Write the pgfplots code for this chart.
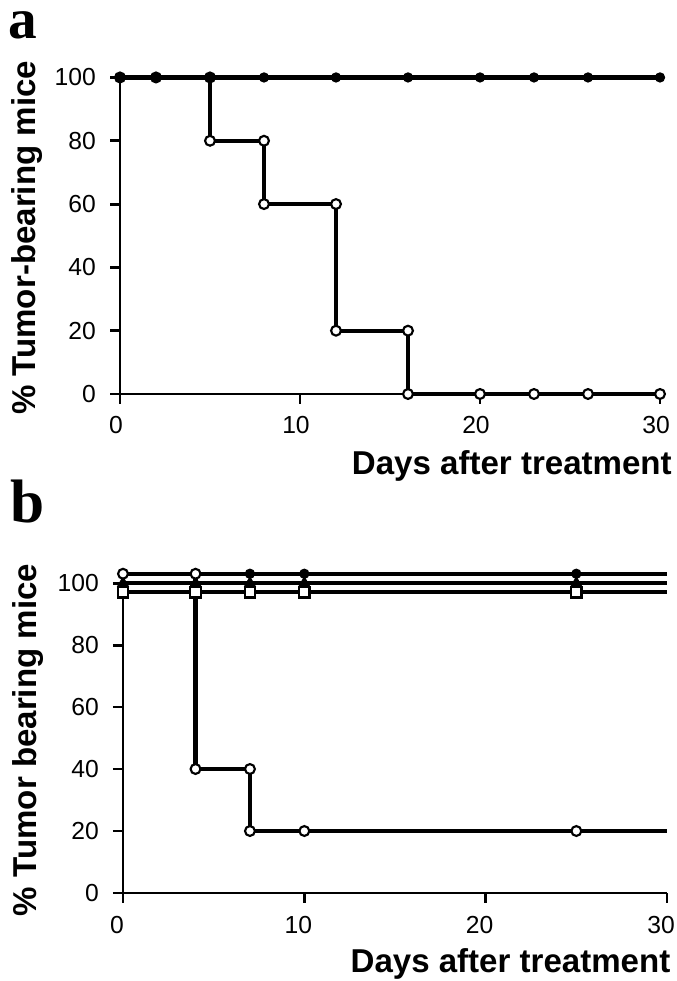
\documentclass[border=0pt]{standalone}
\usepackage{fontspec}
\setmainfont{Liberation Sans}
\newfontfamily\panelfont{Liberation Serif}
\usepackage{pgfplots}
\pgfplotsset{compat=1.18}
\pgfplotsset{
  panel/.style={
    scale only axis,
    axis lines=left,
    axis line style={-, line width=2.2bp, black},
    tick align=outside,
    major tick length=7.5bp,
    tick style={line width=2.2bp, black},
    xmin=0, xmax=30, ymin=0,
    xtick={0,10,20,30}, ytick={0,20,40,60,80,100},
    /pgf/number format/assume math mode=true,
    ticklabel style={font=\fontsize{18.5bp}{22bp}\selectfont, inner sep=0pt},
    yticklabel style={xshift=-10.5bp},
    clip=false,
  },
  ser/.style={black, line width=3.2bp, line join=miter},
  opencirc/.style={mark=*, mark size=3.7bp, mark options={solid, fill=white, draw=black, line width=1.6bp}},
  fillcirc/.style={mark=*, mark size=3.4bp, mark options={solid, fill=black, draw=black, line width=0.9bp}},
  opensq/.style={mark=square*, mark size=3.9bp, mark options={solid, fill=white, draw=black, line width=1.6bp}},
  filltri/.style={mark=triangle*, mark size=4.5bp, mark options={solid, fill=black, draw=black, line width=0.8bp}},
}
\begin{document}
\begin{tikzpicture}
\useasboundingbox (0,0) rectangle (507.75bp,735.75bp);
% ---------------- panel a ----------------
\begin{axis}[panel, at={(90bp,440.25bp)}, anchor=south west,
  width=405bp, height=237.4bp, ymax=100, axis on top,
  xticklabel style={yshift=-9bp, xshift=-3bp}]
\addplot[ser, opencirc] coordinates {
 (0,100) (2,100) (5,100) (5,80) (8,80) (8,60) (12,60) (12,20) (16,20) (16,0) (20,0) (23,0) (26,0) (30,0)};
\addplot[ser, fillcirc] coordinates {
 (0,100) (2,100) (5,100) (8,100) (12,100) (16,100) (20,100) (23,100) (26,100) (30,100)};
\end{axis}
% ---------------- panel b ----------------
\begin{axis}[panel, at={(92.25bp,66bp)}, anchor=south west,
  width=408bp, height=240.6bp, ymax=103.5,
  xticklabel style={yshift=-9.75bp, xshift=-4.5bp}]
\addplot[ser] coordinates {(0,103) (30,103)};
\addplot[only marks, fillcirc] coordinates {(0,103) (7,103) (10,103) (25,103)};
\addplot[ser] coordinates {(0,100) (30,100)};
\addplot[only marks, filltri] coordinates {(0,100) (4,100) (7,100) (10,100) (25,100)};
\addplot[ser] coordinates {(0,103) (4,103) (4,40) (7,40) (7,20) (10,20) (25,20) (30,20)};
\addplot[only marks, opencirc] coordinates {(0,103) (4,103) (4,40) (7,40) (7,20) (10,20) (25,20)};
\addplot[ser] coordinates {(0,97) (30,97)};
\addplot[only marks, opensq] coordinates {(0,97) (4,97) (7,97) (10,97) (25,97)};
\end{axis}
% ---------------- labels ----------------
\node[anchor=base west, inner sep=0pt, font=\panelfont\bfseries\fontsize{43bp}{48bp}\selectfont] at (6bp,707bp) {a};
\node[anchor=base west, inner sep=0pt, font=\panelfont\bfseries\fontsize{46bp}{50bp}\selectfont] at (7.5bp,343.5bp) {b};
\node[rotate=90, anchor=base, inner sep=0pt, font=\bfseries\fontsize{24.8bp}{28bp}\selectfont] at (26.25bp,557.25bp) {\% Tumor-bearing mice};
\node[anchor=base east, inner sep=0pt, font=\bfseries\fontsize{24.8bp}{28bp}\selectfont] at (504bp,379.5bp) {Days after treatment};
\node[rotate=90, anchor=base, inner sep=0pt, font=\bfseries\fontsize{24.8bp}{28bp}\selectfont] at (27bp,180.75bp) {\% Tumor bearing mice};
\node[anchor=base east, inner sep=0pt, font=\bfseries\fontsize{24.8bp}{28bp}\selectfont] at (503bp,6.75bp) {Days after treatment};
\end{tikzpicture}
\end{document}
